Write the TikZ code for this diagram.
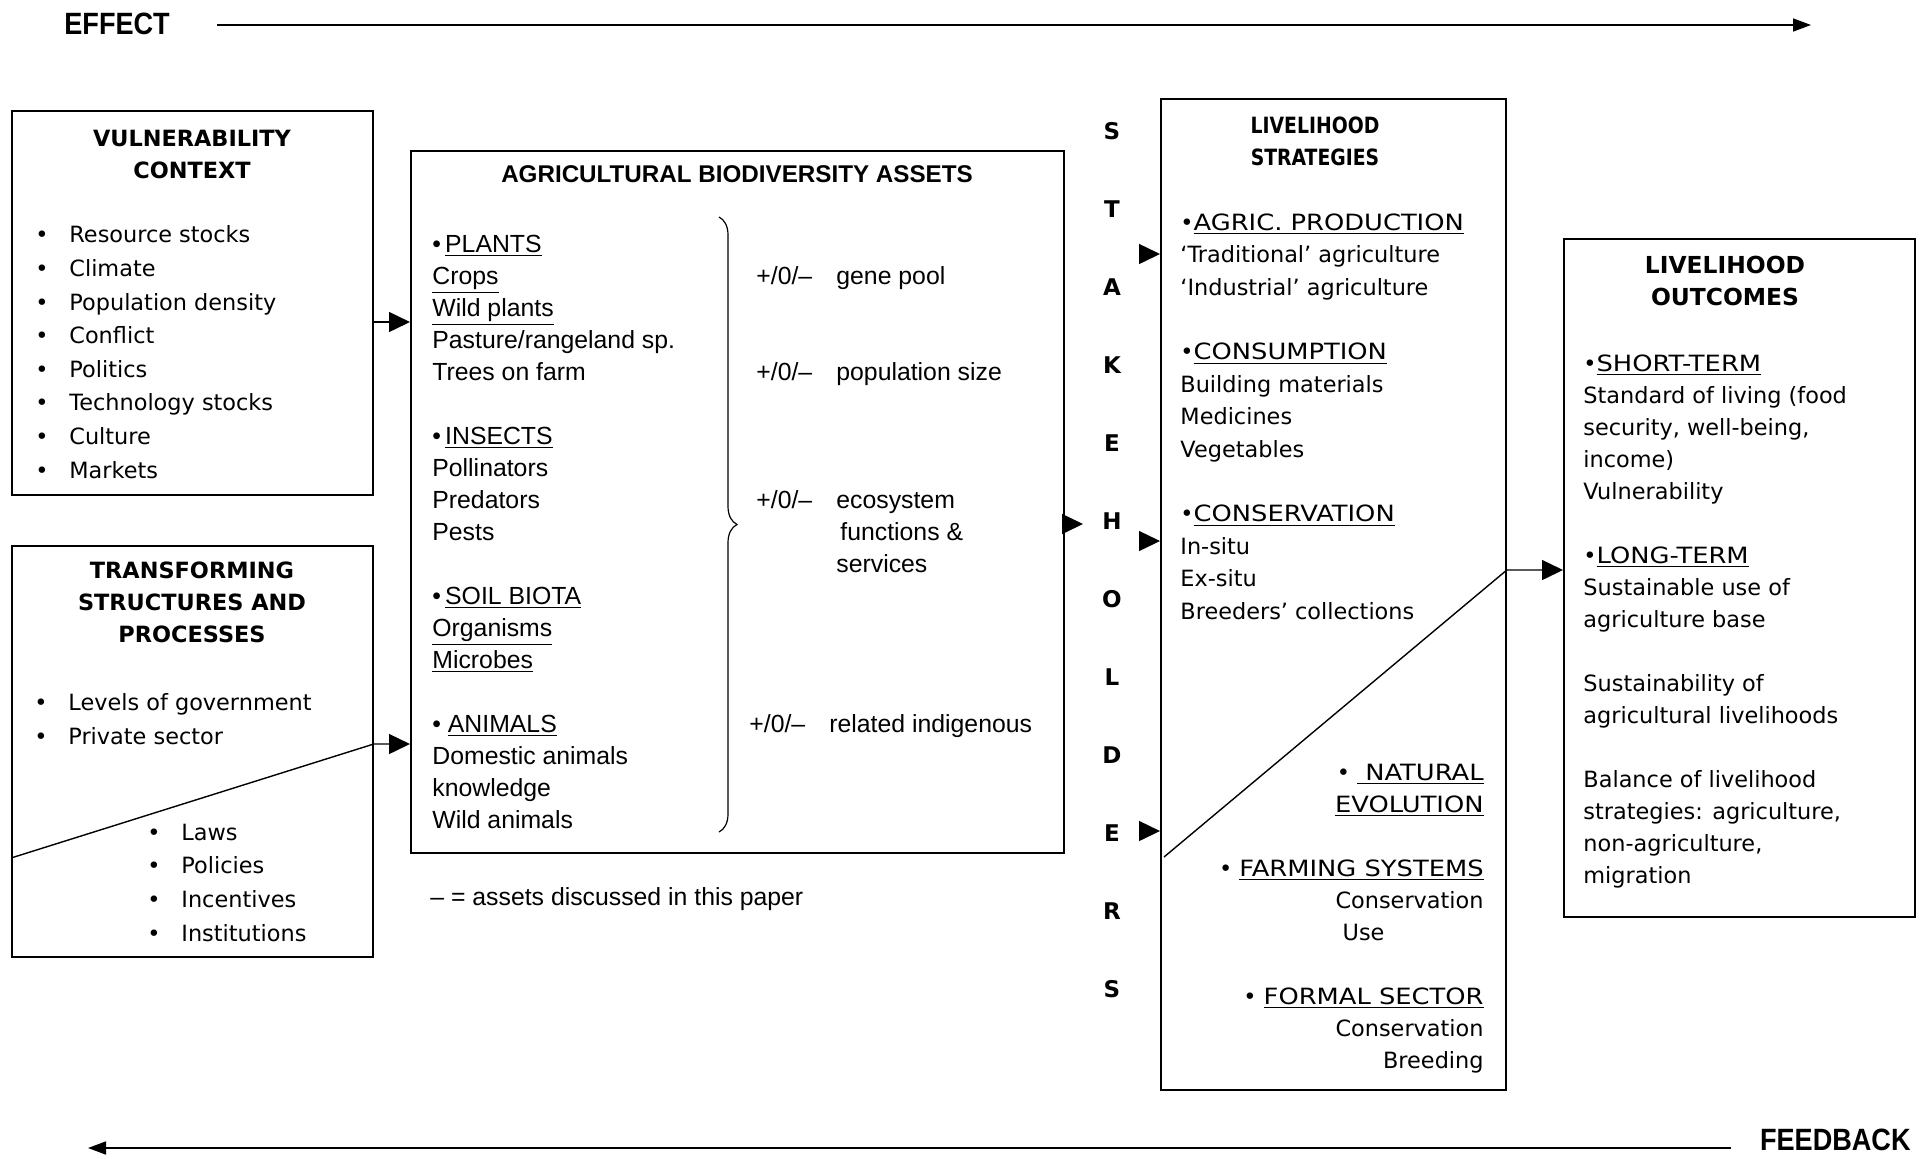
\documentclass[tikz,border=0pt]{standalone}
\usepackage{fontspec}
\setmainfont{DejaVu Sans}
\newfontfamily\narrowf{Liberation Sans}
\usepackage{calc}
\usetikzlibrary{positioning,arrows.meta,decorations.pathreplacing}

\newcommand{\itm}{\makebox[17pt][l]{\textbullet}}
\newcommand{\hd}[1]{\underline{\scalebox{1.15}[1]{#1}}}
\newcommand{\nrw}[1]{\scalebox{0.84}[1]{#1}}

\tikzset{
	box/.style={draw,line width=0.9pt,inner sep=0pt,anchor=north west},
	ttl/.style={font=\bfseries\fontsize{11.2}{16}\selectfont,align=center,anchor=base,inner sep=0pt},
	txt/.style={font=\fontsize{11.2}{16}\selectfont,align=left,anchor=base west,inner sep=0pt},
	lst/.style={txt,font=\fontsize{11.2}{16.8}\selectfont},
	agr/.style={txt,font=\narrowf\fontsize{12.4}{16}\selectfont},
	tip/.style={line width=0.7pt,-{Triangle[length=10.5pt,width=10pt]}},
	bigtip/.style={line width=0.8pt,-{Triangle[length=9pt,width=6.5pt]}},
	flow/.style={font=\narrowf\bfseries\fontsize{15.4}{16}\selectfont,inner sep=0pt}
}

\begin{document}
\begin{tikzpicture}[x=0.5pt,y=-0.5pt]
	\useasboundingbox (0,0) rectangle (1925,1158);

	% effect / feedback
	% (multi-line nodes sit on the baseline of their last line)
	\node(e) [flow,anchor=base west] at (64,34) {\scalebox{0.88}[1]{EFFECT}};
	\coordinate (e1) at (217,25);
	\coordinate (e2) at (1811,25);
	\draw[bigtip] (e1) -- (e2);
	\node(f) [flow,anchor=base east] at (1911,1150) {\scalebox{0.88}[1]{FEEDBACK}};
	\coordinate (f1) at (1731,1148);
	\coordinate (f2) at (88,1148);
	\draw[bigtip] (f1) -- (f2);

	% vulnerability context
	\node(1) [box,minimum width=180.5pt,minimum height=192pt] at (11,110) {};
	\node(1t) [ttl] at (192,178) {VULNERABILITY\\CONTEXT};
	\node(1a) [lst] at (35,478) {\itm Resource stocks\\ \itm Climate\\ \itm Population density\\ \itm Conflict\\
		\itm Politics\\ \itm Technology stocks\\ \itm Culture\\ \itm Markets};

	% transforming structures
	\node(2) [box,below=24.5pt of 1,minimum width=180.5pt,minimum height=205.5pt] {};
	\node(2t) [ttl] at (192,642) {TRANSFORMING\\STRUCTURES AND\\PROCESSES};
	\node(2a) [lst] at (34,744) {\itm Levels of government\\ \itm Private sector};
	\node(2b) [lst] at (147,941) {\itm Laws\\ \itm Policies\\ \itm Incentives\\ \itm Institutions};

	% assets
	\node(3) [box,minimum width=326.5pt,minimum height=351pt] at (410,150) {};
	\node(3t) [ttl,font=\narrowf\bfseries\fontsize{12.1}{16}\selectfont] at (737,182) {AGRICULTURAL BIODIVERSITY ASSETS};
	\node(3a) [agr] at (432,828) {\textbullet\,\underline{PLANTS}\\ \underline{Crops}\\ \underline{Wild plants}\\ Pasture/rangeland sp.\\ Trees on farm\\[16pt]
		\textbullet\,\underline{INSECTS}\\ Pollinators\\ Predators\\ Pests\\[16pt]
		\textbullet\,\underline{SOIL BIOTA}\\ \underline{Organisms}\\ \underline{Microbes}\\[16pt]
		\textbullet\ \underline{ANIMALS}\\ Domestic animals\\ knowledge\\ Wild animals};
	\draw[line width=0.6pt,decorate,decoration={brace,amplitude=9pt}] (719,217) -- (719,832);
	\node(3b) [agr] at (756,284) {\makebox[40pt][l]{+/0/–}gene pool};
	\node(3c) [agr] at (756,380) {\makebox[40pt][l]{+/0/–}population size};
	\node(3d) [agr] at (756,572) {\makebox[40pt][l]{+/0/–}ecosystem\\ \hspace*{42pt}functions \&\\ \hspace*{40pt}services};
	\node(3e) [agr] at (749,732) {\makebox[40pt][l]{+/0/–}related indigenous};
	\node(3f) [agr] at (430,905) {– = assets discussed in this paper};

	\draw[tip] (1.east |- 0,322) -- (3.west |- 0,322);
	\coordinate (2d) at (11,858);
	\draw[tip] (2d) -- (2.east |- 0,744) -- (3.west |- 0,744);

	% stakeholders
	\node(s) [ttl,font=\bfseries\fontsize{11.5}{39}\selectfont] at (1112,997) {S\\T\\A\\K\\E\\H\\O\\L\\D\\E\\R\\S};
	\coordinate (3h) at (1083,524);
	\draw[tip] (3.east |- 3h) -- (3h);

	% livelihood strategies
	\node(4) [box,minimum width=172.5pt,minimum height=495.5pt] at (1160,98) {};
	\node(4t) [ttl] at (1315,165) {\nrw{LIVELIHOOD}\\\nrw{STRATEGIES}};
	\node(4a) [txt,font=\fontsize{11.2}{16.2}\selectfont] at (1180,619) {\textbullet\hd{AGRIC. PRODUCTION}\\ ‘Traditional’ agriculture\\ ‘Industrial’ agriculture\\[16.2pt]
		\textbullet\hd{CONSUMPTION}\\ Building materials\\ Medicines\\ Vegetables\\[16.2pt]
		\textbullet\hd{CONSERVATION}\\ In-situ\\ Ex-situ\\ Breeders’ collections};
	\node(4b) [txt,align=right,anchor=base east] at (1484,1068) {\textbullet\ \hd{\ NATURAL}\\ \hd{EVOLUTION}\\[16pt]
		\textbullet\ \hd{FARMING SYSTEMS}\\ Conservation\\ \makebox[\widthof{Conservation}][l]{\ Use}\\[16pt]
		\textbullet\ \hd{FORMAL SECTOR}\\ Conservation\\ Breeding};
	\coordinate (4p) at (1139,254);
	\coordinate (4q) at (1139,541);
	\coordinate (4r) at (1139,831);
	\draw[tip] (4p) -- (4p -| 4.west);
	\draw[tip] (4q) -- (4q -| 4.west);
	\draw[tip] (4r) -- (4r -| 4.west);

	% livelihood outcomes
	\node(5) [box,minimum width=175.5pt,minimum height=339pt] at (1563,238) {};
	\node(5t) [ttl,font=\bfseries\fontsize{11.7}{16}\selectfont] at (1725,305) {LIVELIHOOD\\OUTCOMES};
	\node(5a) [txt] at (1583,883) {\textbullet\hd{SHORT-TERM}\\ Standard of living (food\\ security, well-being,\\ income)\\ Vulnerability\\[16pt]
		\textbullet\hd{LONG-TERM}\\ Sustainable use of\\ agriculture base\\[16pt]
		Sustainability of\\ agricultural livelihoods\\[16pt]
		Balance of livelihood\\ strategies: agriculture,\\ non-agriculture,\\ migration};
	\coordinate (4d) at (1164,857);
	\draw[tip] (4d) -- (4.east |- 0,570) -- (5.west |- 0,570);
\end{tikzpicture}
\end{document}
